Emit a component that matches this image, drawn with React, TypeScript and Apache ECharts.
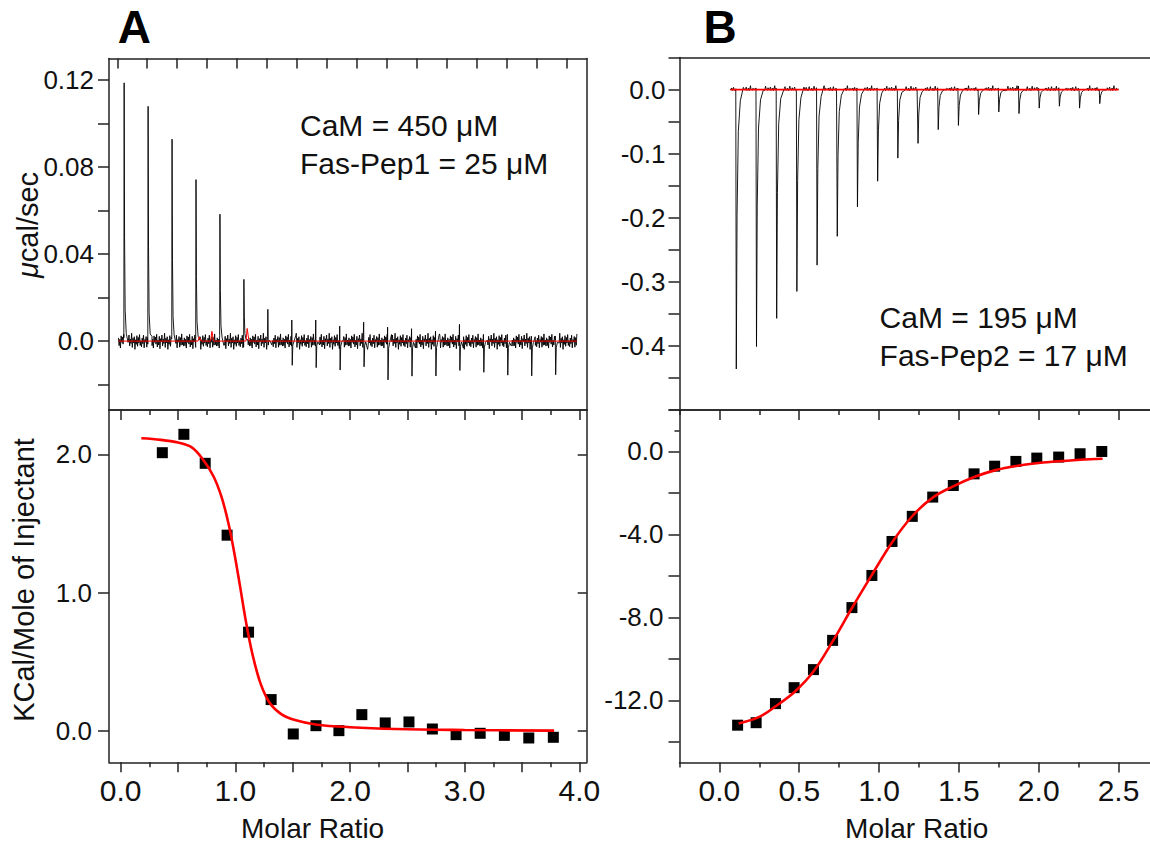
import React, { useEffect, useRef } from "react";
import * as echarts from "echarts";

// ---------- Panel A : raw thermogram (time in min, µcal/sec) ----------
const A_INJ_TIMES = [1.1, 5.1, 9.1, 13.1, 17.1, 21.1, 25.1, 29.1, 33.1, 37.1, 41.1, 45.1, 49.1, 53.1, 57.1, 61.1, 65.1, 69.1, 73.1];
const A_PEAK_UP = [0.1188, 0.108, 0.0929, 0.0743, 0.0584, 0.0284, 0.0146, 0.0097, 0.0097, 0.0069, 0.0087, 0.0064, 0.0057, 0.0046, 0.0077, 0.0031, 0.0031, 0.0023, 0.0023];
const A_PEAK_DOWN = [0, 0, 0, 0, 0, 0, -0.0077, -0.015, -0.0161, -0.0161, -0.0153, -0.0204, -0.0184, -0.0179, -0.0166, -0.0156, -0.0169, -0.0169, -0.0164];
const A_TRACE_RANGE = [0.2, 76.8];
// baseline noise, in 1e-3 µcal/sec
const A_NOISE = [1.5, -2.1, 0.8, -3.2, 2.4, -0.6, 1.9, -1.4, 3.1, -2.7, 0.4, -1.8, 2.2, -3.5, 1.1, -0.3, 2.8, -2.2, 0.9, -1.1, 3.6, -2.9, 1.3, -0.8, 2.0, -3.8, 0.6, -1.5, 2.5, -2.4, 1.7, -0.9, 3.0, -2.0, 0.2, -2.6, 1.4, -1.2, 2.7, -3.1, 0.7, -0.5, 2.1, -2.8, 1.6, -1.9, 3.3, -1.7, 0.5, -2.3];
const A_BUMP_TIMES = [13.7, 15.8, 21.7];
const A_BUMP_VALUES = [0.002, 0.0045, 0.0058];
// injection peak profile (min after injection, fraction of up / down peak)
const A_SHAPE_DT = [0, 0.05, 0.12, 0.22, 0.4, 0.7];
const A_SHAPE_UP = [0, 1, 0.4, 0.12, 0.03, 0];
const A_SHAPE_DOWN = [0, 0, 1, 0.2, 0.04, 0];

// ---------- Panel A : integrated heats ----------
const A_RATIO = [0.363, 0.551, 0.737, 0.928, 1.115, 1.312, 1.505, 1.703, 1.903, 2.103, 2.307, 2.514, 2.718, 2.925, 3.135, 3.346, 3.559, 3.773];
const A_HEAT = [2.012, 2.145, 1.935, 1.415, 0.713, 0.225, -0.024, 0.036, 0.0, 0.116, 0.056, 0.063, 0.012, -0.029, -0.019, -0.034, -0.053, -0.048];
const A_FIT_X = [0.18, 0.35, 0.5, 0.62, 0.72, 0.81, 0.88, 0.94, 0.99, 1.04, 1.09, 1.15, 1.22, 1.3, 1.4, 1.52, 1.7, 2.0, 2.4, 3.0, 3.78];
const A_FIT_Y = [2.116, 2.105, 2.085, 2.05, 1.96, 1.84, 1.69, 1.5, 1.29, 1.05, 0.8, 0.55, 0.34, 0.2, 0.12, 0.077, 0.045, 0.025, 0.012, 0.005, 0.0];

// ---------- Panel B : raw thermogram ----------
const B_INJ_TIMES = [1.05, 5.05, 9.05, 13.05, 17.05, 21.05, 25.05, 29.05, 33.05, 37.05, 41.05, 45.05, 49.05, 53.05, 57.05, 61.05, 65.05, 69.05, 73.05];
const B_PEAK_DOWN = [-0.436, -0.401, -0.357, -0.315, -0.274, -0.229, -0.183, -0.143, -0.107, -0.084, -0.0625, -0.056, -0.039, -0.035, -0.0375, -0.029, -0.026, -0.029, -0.022];
const B_TRACE_RANGE = [0, 76.9];
const B_NOISE = [1.2, -0.8, 2.5, -1.5, 0.6, 3.4, -1.0, 0.9, -2.0, 1.8, 4.5, -0.6, 0.3, -1.3, 2.2, 0.8, -1.7, 1.5, 5.2, -0.4, 1.0, -1.1, 2.8, 0.2, -0.9, 1.9, 3.8, -1.4, 0.7, -0.2, 2.4, -1.6, 1.1, 6.0, -0.7, 0.4, -1.2, 2.0, 1.3, -0.5];
const B_SHAPE_DT = [0, 0.1, 0.25, 0.5, 0.9, 1.5];
const B_SHAPE_DOWN = [0, 1, 0.45, 0.15, 0.04, 0];

// ---------- Panel B : integrated heats ----------
const B_RATIO = [0.114, 0.23, 0.351, 0.468, 0.589, 0.709, 0.83, 0.955, 1.081, 1.208, 1.336, 1.465, 1.595, 1.724, 1.857, 1.988, 2.125, 2.259, 2.395];
const B_HEAT = [-13.2, -13.08, -12.16, -11.39, -10.52, -9.11, -7.53, -5.98, -4.34, -3.13, -2.2, -1.64, -1.08, -0.71, -0.48, -0.32, -0.27, -0.11, 0.0];
const B_FIT_X = [0.12, 0.25, 0.35, 0.47, 0.59, 0.71, 0.83, 0.955, 1.08, 1.21, 1.34, 1.47, 1.6, 1.73, 1.86, 2.0, 2.13, 2.26, 2.4];
const B_FIT_Y = [-13.12, -12.8, -12.3, -11.6, -10.6, -9.15, -7.55, -5.95, -4.4, -3.1, -2.2, -1.66, -1.22, -0.9, -0.7, -0.56, -0.47, -0.4, -0.35];

// ---------- ticks & labels ----------
const A_TIME_TICKS = [0, 5, 10, 15, 20, 25, 30, 35, 40, 45, 50, 55, 60, 65, 70, 75];
const A_RAW_Y_TICKS = [-0.02, 0, 0.02, 0.04, 0.06, 0.08, 0.1, 0.12];
const A_RAW_Y_LABELS = [0, 0.04, 0.08, 0.12];
const A_RATIO_MAJOR = [0, 0.5, 1, 1.5, 2, 2.5, 3, 3.5, 4];
const A_RATIO_MINOR = [0.25, 0.75, 1.25, 1.75, 2.25, 2.75, 3.25, 3.75];
const A_RATIO_LABELS = [0, 1, 2, 3, 4];
const A_HEAT_TICKS = [0, 1, 2];
const B_RAW_Y_TICKS = [-0.5, -0.45, -0.4, -0.35, -0.3, -0.25, -0.2, -0.15, -0.1, -0.05, 0, 0.05];
const B_RAW_Y_LABELS = [0, -0.1, -0.2, -0.3, -0.4];
const B_RATIO_MAJOR = [0, 0.5, 1, 1.5, 2, 2.5];
const B_RATIO_MINOR = [-0.25, 0.25, 0.75, 1.25, 1.75, 2.25];
const B_HEAT_TICKS = [2, 0, -2, -4, -6, -8, -10, -12, -14];
const B_HEAT_MINOR = [1];
const B_HEAT_LABELS = [0, -4, -8, -12];

const FONT = "'Liberation Sans', Arial, Helvetica, sans-serif";
const INK = "#111";
const FRAME_COLOR = "#222";

function buildTrace(
  injT: number[], up: number[] | null, down: number[], range: number[], noise: number[],
  offs: number[], upF: number[] | null, downF: number[], step: number
): [number, number][] {
  const span = offs[offs.length - 1];
  const nz = (k: number) => noise[((k % noise.length) + noise.length) % noise.length] / 1000;
  const pts: [number, number][] = [];
  let k = 0;
  for (let t = range[0]; t <= range[1] + 1e-9; t += step, k++) {
    if (injT.some((t0) => t >= t0 && t <= t0 + span)) continue;
    pts.push([t, nz(k)]);
  }
  injT.forEach((t0, i) => {
    offs.forEach((dt, j) => {
      const u = up && upF ? up[i] * upF[j] : 0;
      const d = down[i] * downF[j];
      const edge = j === 0 || j === offs.length - 1 ? nz(i * 7 + j) : 0;
      pts.push([t0 + dt, u + d + edge]);
    });
  });
  pts.sort((a, b) => a[0] - b[0]);
  return pts;
}

type AxisOpts = {
  gridIndex: number; position: string; min: number; max: number;
  line?: boolean; ticks?: number[]; tickLen?: number; inside?: boolean;
  labels?: number[]; fmt?: (v: number) => string; fontSize?: number; margin?: number;
};
function mkAxis(o: AxisOpts) {
  return {
    type: "value",
    gridIndex: o.gridIndex,
    position: o.position,
    min: o.min,
    max: o.max,
    axisLine: { show: !!o.line, onZero: false, lineStyle: { color: FRAME_COLOR, width: 1.5 } },
    axisTick: o.ticks
      ? { show: true, customValues: o.ticks, length: o.tickLen ?? 10, inside: !!o.inside, lineStyle: { color: FRAME_COLOR, width: 1.5 } }
      : { show: false },
    axisLabel: o.labels
      ? { show: true, customValues: o.labels, formatter: o.fmt, fontSize: o.fontSize ?? 26, fontFamily: FONT, color: INK, margin: o.margin ?? 15 }
      : { show: false },
    splitLine: { show: false },
    minorTick: { show: false },
  };
}

const fmt1 = (v: number) => (Math.abs(v) < 1e-9 ? "0.0" : v.toFixed(1));
const fmt2 = (v: number) => (Math.abs(v) < 1e-9 ? "0.0" : v.toFixed(2));

export default function App() {
  const ref = useRef<HTMLDivElement>(null);
  useEffect(() => {
    if (!ref.current) return;
    const chart = echarts.init(ref.current, undefined, { renderer: "svg" });

    const A_X_TIME = [-1.38, 78.4];
    const A_Y_RAW = [-0.0317, 0.13];
    const A_X_RATIO = [-0.102, 4.064];
    const A_Y_HEAT = [-0.229, 2.321];
    const B_X_TIME = [-10.1, 83.1];
    const B_Y_RAW = [-0.5, 0.05];
    const B_X_RATIO = [-0.25, 2.697];
    const B_Y_HEAT = [-15, 2];

    const aTrace = buildTrace(A_INJ_TIMES, A_PEAK_UP, A_PEAK_DOWN, A_TRACE_RANGE, A_NOISE, A_SHAPE_DT, A_SHAPE_UP, A_SHAPE_DOWN, 0.11);
    const bTrace = buildTrace(B_INJ_TIMES, null, B_PEAK_DOWN, B_TRACE_RANGE, B_NOISE, B_SHAPE_DT, null, B_SHAPE_DOWN, 0.12);

    const aBase: [number, number][] = [[A_TRACE_RANGE[0], 0]];
    A_BUMP_TIMES.forEach((t, i) => {
      aBase.push([t - 0.2, 0], [t, A_BUMP_VALUES[i]], [t + 0.3, 0]);
    });
    aBase.push([A_TRACE_RANGE[1], 0]);

    const option: any = {
      animation: false,
      backgroundColor: "#fff",
      grid: [
        { left: 109, top: 58.5, width: 477.7, height: 351.5 },
        { left: 109, top: 410, width: 477.7, height: 352.3 },
        { left: 679.5, top: 57.5, width: 470.5, height: 352.5 },
        { left: 679.5, top: 410, width: 470.5, height: 352.5 },
      ],
      xAxis: [
        // 0,1 : A top
        mkAxis({ gridIndex: 0, position: "top", min: A_X_TIME[0], max: A_X_TIME[1], line: true, ticks: A_TIME_TICKS, tickLen: 10, inside: true }),
        mkAxis({ gridIndex: 0, position: "bottom", min: A_X_TIME[0], max: A_X_TIME[1], line: true }),
        // 2..5 : A bottom
        mkAxis({ gridIndex: 1, position: "bottom", min: A_X_RATIO[0], max: A_X_RATIO[1], line: true, ticks: A_RATIO_MAJOR, tickLen: 10, labels: A_RATIO_LABELS, fmt: fmt1, fontSize: 30, margin: 13 }),
        mkAxis({ gridIndex: 1, position: "bottom", min: A_X_RATIO[0], max: A_X_RATIO[1], ticks: A_RATIO_MINOR, tickLen: 5 }),
        mkAxis({ gridIndex: 1, position: "top", min: A_X_RATIO[0], max: A_X_RATIO[1], line: true, ticks: A_RATIO_MAJOR, tickLen: 10, inside: true }),
        mkAxis({ gridIndex: 1, position: "top", min: A_X_RATIO[0], max: A_X_RATIO[1], ticks: A_RATIO_MINOR, tickLen: 5, inside: true }),
        // 6,7 : B top
        mkAxis({ gridIndex: 2, position: "top", min: B_X_TIME[0], max: B_X_TIME[1], line: true }),
        mkAxis({ gridIndex: 2, position: "bottom", min: B_X_TIME[0], max: B_X_TIME[1], line: true }),
        // 8..11 : B bottom
        mkAxis({ gridIndex: 3, position: "bottom", min: B_X_RATIO[0], max: B_X_RATIO[1], line: true, ticks: B_RATIO_MAJOR, tickLen: 10, labels: B_RATIO_MAJOR, fmt: fmt1, fontSize: 30, margin: 13 }),
        mkAxis({ gridIndex: 3, position: "bottom", min: B_X_RATIO[0], max: B_X_RATIO[1], ticks: B_RATIO_MINOR, tickLen: 5 }),
        mkAxis({ gridIndex: 3, position: "top", min: B_X_RATIO[0], max: B_X_RATIO[1], line: true, ticks: B_RATIO_MAJOR, tickLen: 10, inside: true }),
        mkAxis({ gridIndex: 3, position: "top", min: B_X_RATIO[0], max: B_X_RATIO[1], ticks: B_RATIO_MINOR, tickLen: 5, inside: true }),
      ],
      yAxis: [
        // 0,1 : A top
        mkAxis({ gridIndex: 0, position: "left", min: A_Y_RAW[0], max: A_Y_RAW[1], line: true, ticks: A_RAW_Y_TICKS, tickLen: 11, labels: A_RAW_Y_LABELS, fmt: fmt2 }),
        mkAxis({ gridIndex: 0, position: "right", min: A_Y_RAW[0], max: A_Y_RAW[1], line: true }),
        // 2,3 : A bottom
        mkAxis({ gridIndex: 1, position: "left", min: A_Y_HEAT[0], max: A_Y_HEAT[1], line: true, ticks: A_HEAT_TICKS, tickLen: 11, labels: A_HEAT_TICKS, fmt: fmt1, margin: 17 }),
        mkAxis({ gridIndex: 1, position: "right", min: A_Y_HEAT[0], max: A_Y_HEAT[1], line: true, ticks: A_HEAT_TICKS, tickLen: 9, inside: true }),
        // 4 : B top
        mkAxis({ gridIndex: 2, position: "left", min: B_Y_RAW[0], max: B_Y_RAW[1], line: true, ticks: B_RAW_Y_TICKS, tickLen: 11, labels: B_RAW_Y_LABELS, fmt: fmt1, margin: 14 }),
        // 5,6 : B bottom
        mkAxis({ gridIndex: 3, position: "left", min: B_Y_HEAT[0], max: B_Y_HEAT[1], line: true, ticks: B_HEAT_TICKS, tickLen: 11, labels: B_HEAT_LABELS, fmt: fmt1, margin: 16 }),
        mkAxis({ gridIndex: 3, position: "left", min: B_Y_HEAT[0], max: B_Y_HEAT[1], ticks: B_HEAT_MINOR, tickLen: 5 }),
      ],
      series: [
        {
          type: "line", xAxisIndex: 0, yAxisIndex: 0, data: aTrace, showSymbol: false, symbol: "none",
          lineStyle: { color: "#000", width: 0.9 }, z: 2,
        },
        {
          type: "line", xAxisIndex: 0, yAxisIndex: 0, data: aBase, showSymbol: false, symbol: "none",
          lineStyle: { color: "#f00", width: 1 }, z: 3,
        },
        {
          type: "scatter", xAxisIndex: 2, yAxisIndex: 2, symbol: "rect", symbolSize: 11,
          data: A_RATIO.map((x, i) => [x, A_HEAT[i]]), itemStyle: { color: "#000", opacity: 1 }, z: 2,
        },
        {
          type: "line", xAxisIndex: 2, yAxisIndex: 2, data: A_FIT_X.map((x, i) => [x, A_FIT_Y[i]]),
          smooth: 0.35, showSymbol: false, symbol: "none",
          lineStyle: { color: "#f00", width: 2.6 }, z: 3,
        },
        {
          type: "line", xAxisIndex: 6, yAxisIndex: 4, data: bTrace, showSymbol: false, symbol: "none",
          lineStyle: { color: "#000", width: 0.9 }, z: 2,
        },
        {
          type: "line", xAxisIndex: 6, yAxisIndex: 4, data: [[B_TRACE_RANGE[0], 0], [B_TRACE_RANGE[1], 0]],
          showSymbol: false, symbol: "none", lineStyle: { color: "#f00", width: 1.8 }, z: 3,
        },
        {
          type: "scatter", xAxisIndex: 8, yAxisIndex: 5, symbol: "rect", symbolSize: 11,
          data: B_RATIO.map((x, i) => [x, B_HEAT[i]]), itemStyle: { color: "#000", opacity: 1 }, z: 2,
        },
        {
          type: "line", xAxisIndex: 8, yAxisIndex: 5, data: B_FIT_X.map((x, i) => [x, B_FIT_Y[i]]),
          smooth: 0.35, showSymbol: false, symbol: "none",
          lineStyle: { color: "#f00", width: 2.6 }, z: 3,
        },
      ],
      graphic: [
        { type: "text", x: 134.3, y: 27, style: { text: "A", font: `bold 46px ${FONT}`, fill: "#000", align: "center", verticalAlign: "middle" } },
        { type: "text", x: 720, y: 27, style: { text: "B", font: `bold 46px ${FONT}`, fill: "#000", align: "center", verticalAlign: "middle" } },
        { type: "text", x: 300, y: 125, style: { text: "CaM = 450 μM", font: `30px ${FONT}`, fill: INK, align: "left", verticalAlign: "middle" } },
        { type: "text", x: 300, y: 163, style: { text: "Fas-Pep1 = 25 μM", font: `30px ${FONT}`, fill: INK, align: "left", verticalAlign: "middle" } },
        { type: "text", x: 879.6, y: 317, style: { text: "CaM = 195 μM", font: `30px ${FONT}`, fill: INK, align: "left", verticalAlign: "middle" } },
        { type: "text", x: 879.6, y: 355, style: { text: "Fas-Pep2 = 17 μM", font: `30px ${FONT}`, fill: INK, align: "left", verticalAlign: "middle" } },
        { type: "text", x: 312.6, y: 828, style: { text: "Molar Ratio", font: `28px ${FONT}`, fill: INK, align: "center", verticalAlign: "middle" } },
        { type: "text", x: 916.7, y: 828, style: { text: "Molar Ratio", font: `28px ${FONT}`, fill: INK, align: "center", verticalAlign: "middle" } },
        {
          type: "text", x: 28, y: 225, rotation: Math.PI / 2,
          style: {
            text: "{i|μ}cal/sec", font: `29px ${FONT}`, fill: INK, align: "center", verticalAlign: "middle",
            rich: { i: { fontStyle: "italic", fontSize: 29, fontFamily: FONT, fill: INK } },
          },
        },
        {
          type: "text", x: 24, y: 580, rotation: Math.PI / 2,
          style: { text: "KCal/Mole of Injectant", font: `29px ${FONT}`, fill: INK, align: "center", verticalAlign: "middle" },
        },
      ],
    };
    chart.setOption(option);
    return () => chart.dispose();
  }, []);
  return (
    <div
      ref={ref}
      style={{ position: "fixed", left: 0, top: 0, width: 1150, height: 843, background: "#fff" }}
    />
  );
}
